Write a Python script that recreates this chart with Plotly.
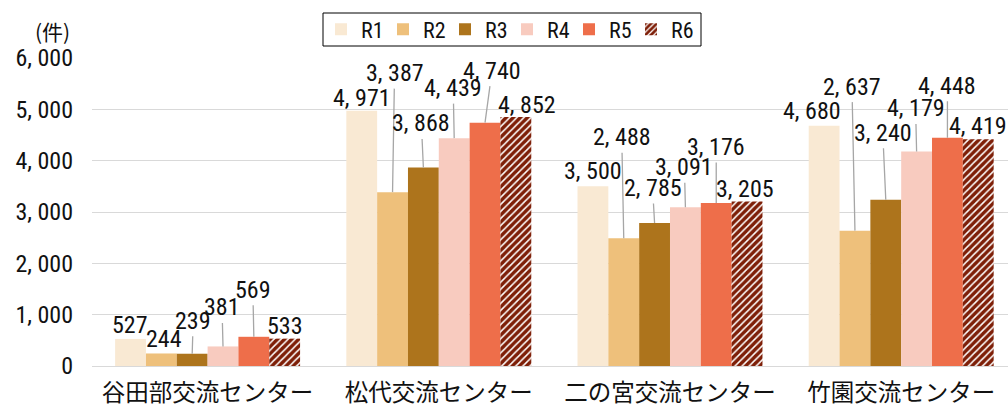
import plotly.graph_objects as go

centers = ["谷田部交流センター", "松代交流センター", "二の宮交流センター", "竹園交流センター"]
years = ["R1", "R2", "R3", "R4", "R5", "R6"]

r1 = [527, 4971, 3500, 4680]
r2 = [244, 3387, 2488, 2637]
r3 = [239, 3868, 2785, 3240]
r4 = [381, 4439, 3091, 4179]
r5 = [569, 4740, 3176, 4448]
r6 = [533, 4852, 3205, 4419]

y_ticks = [0, 1000, 2000, 3000, 4000, 5000, 6000]

series = [r1, r2, r3, r4, r5, r6]
colors = ["#F9E9D3", "#EEC07B", "#AD741C", "#F8CBBF", "#EE6E4A", "#FFFFFF"]

# label placement (pixel offset of label centre from bar top, leader line or not)
label_pos = [
    [(-1, -14, False), (0, -13, False), (0, -15, False), (-12, -15, False)],
    [(3, -14, False), (2, -119, True), (-2, -101, True), (-3, -144, True)],
    [(1, -33, True), (-2, -44, True), (-2, -35, True), (-3, -67, True)],
    [(-1, -39, True), (-1, -50, True), (-1, -40, True), (-1, -43, True)],
    [(-1, -47, True), (7, -52, True), (0, -56, True), (0, -52, True)],
    [(0, -13, False), (11, -12, False), (-2, -12, False), (0, -13, False)],
]

W, H = 1008, 409
ML, MR, MT, MB = 92, 0, 58, 43
x_range = [-0.5, 3.462]
cat_px = (W - ML - MR) / (x_range[1] - x_range[0])
bar_px = cat_px * 0.8 / len(years)
plot_h = H - MT - MB

num_font = "Roboto Condensed, Noto Sans CJK JP"
cjk_font = "Noto Sans CJK JP"
txt = "#111111"


def fmt(v):
    return f"{v:,}".replace(",", ", ")


def px_x(p):
    return (p - ML) / (W - ML - MR)


def px_y(p):
    return 1 + (MT - p) / plot_h


fig = go.Figure()
for i, (name, vals) in enumerate(zip(years, series)):
    marker = dict(color=colors[i], line=dict(width=0))
    if name == "R6":
        marker["pattern"] = dict(shape="/", fgcolor="#7E1F08", bgcolor="#FFFFFF",
                                 fgopacity=1, size=5, solidity=0.7)
    fig.add_trace(go.Bar(x=centers, y=vals, name=name, marker=marker))

for i, vals in enumerate(series):
    off = (i - 2.5) * bar_px
    for j, v in enumerate(vals):
        dx, dy, leader = label_pos[i][j]
        if leader:
            fig.add_annotation(x=centers[j], y=v, xshift=off, text=fmt(v),
                               showarrow=True, arrowhead=0, arrowwidth=1.3,
                               arrowcolor="#A6A6A6", standoff=0, ax=dx, ay=dy,
                               font=dict(family=num_font, size=24, color=txt))
        else:
            fig.add_annotation(x=centers[j], y=v, xshift=off + dx, yshift=-dy,
                               text=fmt(v), showarrow=False,
                               font=dict(family=num_font, size=24, color=txt))

fig.add_annotation(xref="paper", yref="paper", x=px_x(52), y=px_y(31),
                   xanchor="center", yanchor="middle", text="(件)",
                   showarrow=False, font=dict(family=cjk_font, size=21, color=txt))

# legend frame
fig.add_shape(type="rect", xref="paper", yref="paper",
              x0=px_x(323), x1=px_x(701), y0=px_y(46), y1=px_y(13),
              line=dict(color="#000000", width=1), fillcolor="rgba(0,0,0,0)")

fig.update_layout(
    width=W, height=H,
    margin=dict(l=ML, r=MR, t=MT, b=MB, autoexpand=False),
    paper_bgcolor="white", plot_bgcolor="white",
    barmode="group", bargap=0.2, bargroupgap=0,
    showlegend=True,
    legend=dict(orientation="h", x=px_x(321), y=px_y(29.5), xanchor="left",
                yanchor="middle", borderwidth=0, bgcolor="rgba(0,0,0,0)",
                entrywidth=17, entrywidthmode="pixels",
                font=dict(family=num_font, size=22, color=txt)),
    xaxis=dict(range=x_range, showgrid=False, showline=False, ticks="",
               ticklabelstandoff=10,
               tickfont=dict(family=cjk_font, size=23.5, color=txt)),
    yaxis=dict(range=[0, 6000], tickvals=y_ticks, ticktext=[fmt(v) for v in y_ticks],
               showgrid=True, gridcolor="#D9D9D9", gridwidth=1.3,
               zeroline=True, zerolinecolor="#D9D9D9", zerolinewidth=1.3,
               showline=False, ticks="", ticklabelstandoff=18,
               tickfont=dict(family=num_font, size=24, color=txt)),
)

# the page body has a default margin; remove it so the figure sits at (0, 0)
fig.write_html("out.html", config={"displayModeBar": False},
               post_script="document.body.style.margin='0';"
                           "document.body.style.overflow='hidden';")
